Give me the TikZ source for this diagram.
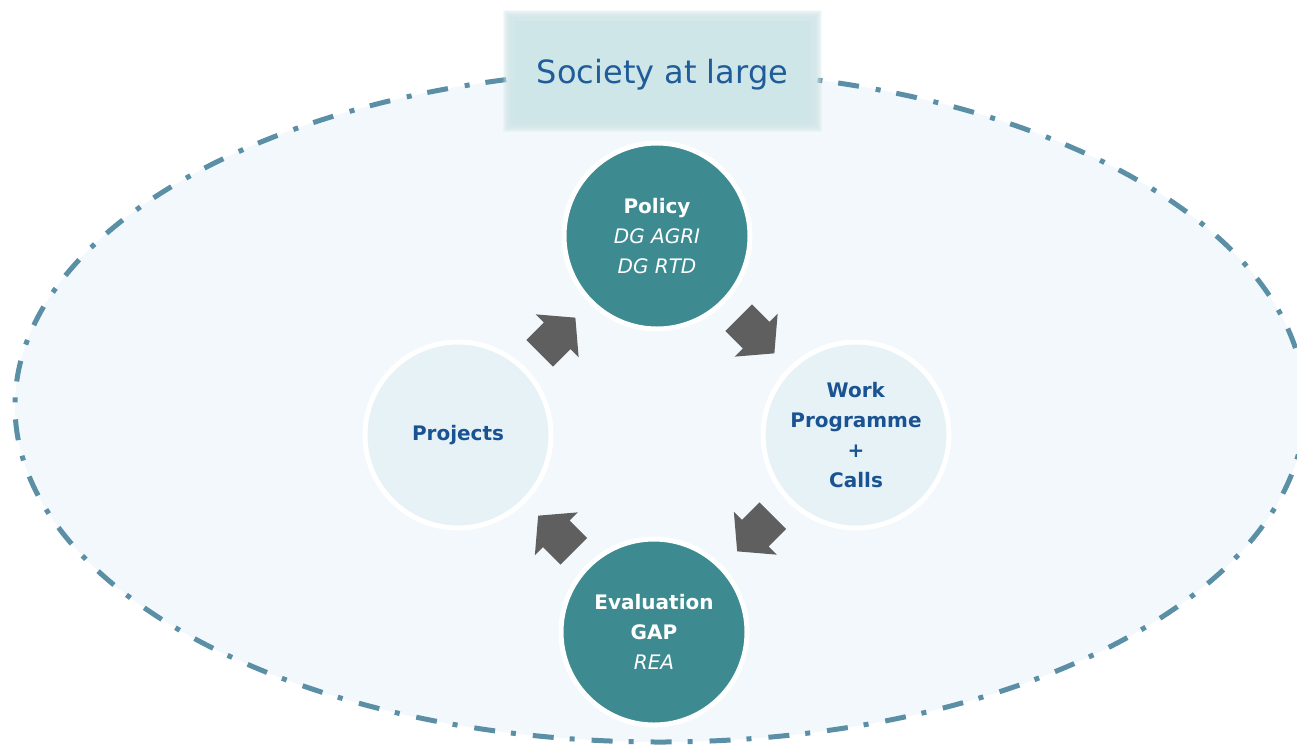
\documentclass[tikz,border=0pt]{standalone}
\usepackage{fontspec}
\setmainfont{DejaVu Sans}
\usetikzlibrary{shapes.geometric,calc}
\definecolor{ellfill}{HTML}{F2F8FB}
\definecolor{elldash}{HTML}{5B8FA6}
\definecolor{boxfill}{HTML}{CFE6E8}
\definecolor{titletext}{HTML}{1F5C99}
\definecolor{tealc}{HTML}{3D8B91}
\definecolor{lightc}{HTML}{E6F2F5}
\definecolor{darkblue}{HTML}{1A5393}
\definecolor{arrowgray}{HTML}{5F5F5F}
\tikzset{
  society/.style={ellipse, minimum width=1290pt, minimum height=672pt, inner sep=0pt,
    fill=ellfill, draw=elldash, line width=5pt,
    dash pattern=on 21pt off 16pt on 5pt off 17pt},
  titlebox/.style={rectangle, minimum width=297pt, minimum height=100pt, inner sep=0pt,
    fill=boxfill, text=titletext, font=\fontsize{32}{38}\selectfont,
    text height=24pt, text depth=0pt},
  phase/.style={circle, minimum size=186pt, inner sep=0pt, draw=white, line width=5pt,
    align=center, font=\fontsize{20}{30}\selectfont},
  darkphase/.style={phase, fill=tealc, text=white},
  lightphase/.style={phase, fill=lightc, text=darkblue},
  pics/blockarrow/.style={code={
    \fill[arrowgray] (-25.25pt,-18.8pt) -- (-0.5pt,-18.8pt) -- (-0.5pt,-30.4pt)
      -- (25.25pt,0pt) -- (-0.5pt,30.4pt) -- (-0.5pt,18.8pt) -- (-25.25pt,18.8pt) -- cycle;
  }}
}
\begin{document}
\begin{tikzpicture}[x=1pt,y=-1pt]
\clip (0,0) rectangle (1297,745);
\fill[white] (0,0) rectangle (1297,745);
% outer ellipse
\node[society] (soc) at (660,406) {};
% title box with soft (blurred) edge
\foreach \i in {0,...,7}{
  \fill[boxfill,opacity=0.22] (503+\i,10+\i) rectangle (822-\i,132-\i);
}
\node[titlebox] (title) at (662.5,71) {Society at large};
% circles
\node[darkphase] (pol) at (657,236) {\textbf{Policy}\\\textit{DG AGRI}\\\textit{DG RTD}};
\node[lightphase] (work) at (856,435) {\textbf{Work}\\\textbf{Programme}\\\textbf{+}\\\textbf{Calls}};
\node[darkphase] (eval) at (654,632) {\textbf{Evaluation}\\\textbf{GAP}\\\textit{REA}};
\node[lightphase] (proj) at (458,435) {\textbf{Projects}};
% block arrows between circles
\pic[rotate=45] at ($(proj)!0.5!(pol)$) {blockarrow};
\pic[rotate=-45] at ($(pol)!0.5!(work)$) {blockarrow};
\pic[rotate=-135] at ($(work)!0.5!(eval)$) {blockarrow};
\pic[rotate=135] at ($(eval)!0.5!(proj)$) {blockarrow};
\end{tikzpicture}
\end{document}
